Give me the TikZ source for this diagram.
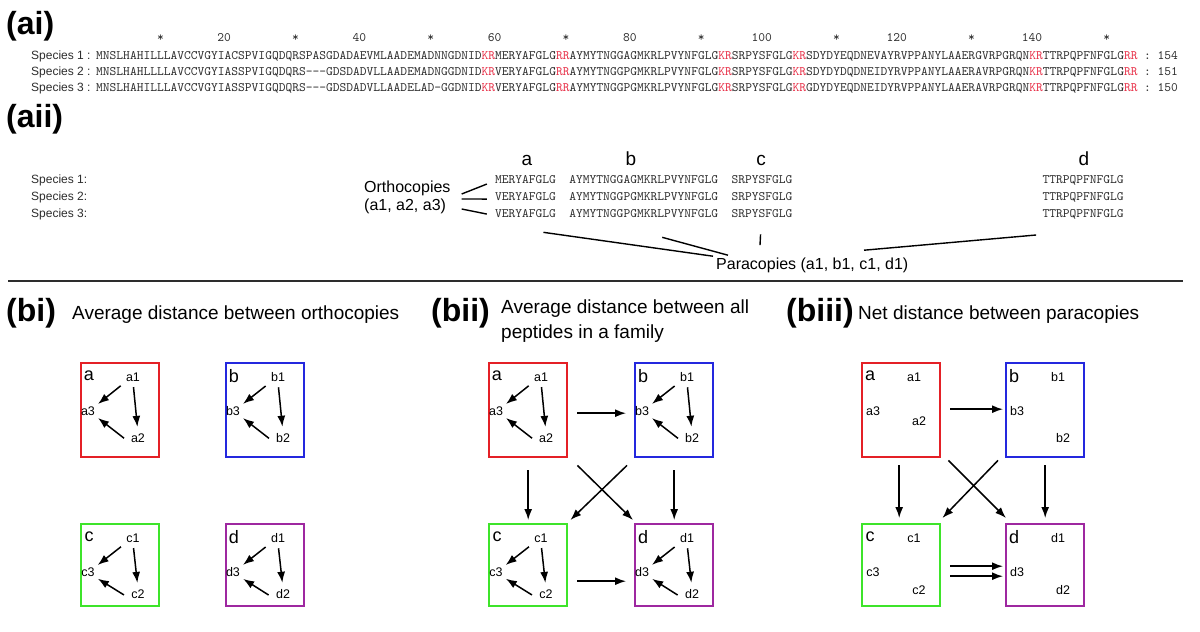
\documentclass[tikz,border=0pt]{standalone}
\usepackage{fontspec}
\setmainfont{Liberation Sans}
\usetikzlibrary{arrows.meta}
\font\seqfont="[lmmono10-regular.otf]" at 12.88pt

\definecolor{seqgray}{RGB}{45,45,45}
\definecolor{krred}{RGB}{232,48,72}
\definecolor{famred}{RGB}{228,32,38}
\definecolor{famblue}{RGB}{36,40,222}
\definecolor{famgreen}{RGB}{62,228,42}
\definecolor{fampurple}{RGB}{158,40,160}

\newcommand{\krmark}[1]{\textcolor{krred}{#1}}
\newcommand{\colx}[1]{96+(#1-1)*6.76}

\tikzset{
  seqtxt/.style={inner sep=0pt, anchor=base west, text=seqgray, font=\seqfont},
  spec/.style={inner sep=0pt, anchor=base west, text=seqgray, font=\fontsize{12}{14}\selectfont},
  head/.style={inner sep=0pt, anchor=west, font=\fontsize{32}{36}\selectfont\bfseries},
  title/.style={inner sep=0pt, anchor=west, font=\fontsize{19}{25}\selectfont},
  seglab/.style={inner sep=0pt, anchor=base, font=\fontsize{19}{21}\selectfont},
  note/.style={inner sep=0pt, font=\fontsize{16}{18}\selectfont},
  fam/.style={draw, line width=2.4pt, minimum width=78pt, inner sep=0pt, anchor=north west},
  famlab/.style={inner sep=0pt, font=\fontsize{18}{20}\selectfont},
  mem/.style={inner sep=0.5pt, font=\fontsize{12.5}{14}\selectfont},
  arr/.style={line width=1.5pt, -{Latex[length=11pt,width=8pt]}},
  tie/.style={line width=1.4pt},
}

% #1 名前, #2 文字, #3 色, #4 左, #5 上, #6 高さ, #7 m3のx, #8 m2のy
\newcommand{\famblock}[8]{%
  \node[fam, draw=#3, minimum height=#6pt] (#1) at (#4,#5) {};
  \node[famlab] (#1l) at ([shift={(9pt,-14pt)}]#1.north west) {#2};
  \node[mem] (#1m1) at ([shift={(53pt,-15pt)}]#1.north west) {#21};
  \node[mem] (#1m3) at ([shift={(#7pt,-49pt)}]#1.north west) {#23};
  \node[mem] (#1m2) at ([shift={(58pt,-#8pt)}]#1.north west) {#22};
}
% 箱の中の矢印
\newcommand{\famarrows}[1]{%
  \draw[arr, shorten <=6pt, shorten >=3pt] (#1m1.south west) -- (#1m3.north east);
  \draw[arr, shorten <=5pt, shorten >=6pt] (#1m1.south) -- (#1m2.north);
  \draw[arr, shorten <=8pt, shorten >=3pt] (#1m2.south west) -- (#1m3.south east);
}

\begin{document}
\begin{tikzpicture}[x=1pt,y=-1pt]
 \fill[white] (0,0) rectangle (1200,632); % 背景
 \useasboundingbox (0,0) rectangle (1200,632);

 % (ai) アラインメント
 \node[head] (hai) at (6,26) {(ai)};
 \foreach \k in {10,30,...,150}
   \node[seqtxt] (st\k) at ({\colx{\k}},41) {*}; % 目盛り
 \foreach \k in {20,40,...,140}
   \node[seqtxt, anchor=base east] (sn\k) at ({\colx{\k}+6.76},41) {\k}; % 番号

 \node[spec] (sp1) at (31,59) {Species 1 :};
 \node[spec] (sp2) at (31,75) {Species 2 :};
 \node[spec] (sp3) at (31,91) {Species 3 :};

 \node[seqtxt] (r1) at (96,59) {MNSLHAHILLLAVCCVGYIACSPVIGQDQRSPASGDADAEVMLAADEMADNNGDNID\krmark{KR}MERYAFGLG\krmark{RR}AYMYTNGGAGMKRLPVYNFGLG\krmark{KR}SRPYSFGLG\krmark{KR}SDYDYEQDNEVAYRVPPANYLAAERGVRPGRQN\krmark{KR}TTRPQPFNFGLG\krmark{RR}};
 \node[seqtxt] (r2) at (96,75) {MNSLHAHLLLLAVCCVGYIASSPVIGQDQRS---GDSDADVLLAADEMADNGGDNID\krmark{KR}VERYAFGLG\krmark{RR}AYMYTNGGPGMKRLPVYNFGLG\krmark{KR}SRPYSFGLG\krmark{KR}SDYDYDQDNEIDYRVPPANYLAAERAVRPGRQN\krmark{KR}TTRPQPFNFGLG\krmark{RR}};
 \node[seqtxt] (r3) at (96,91) {MNSLHAHILLLAVCCVGYIASSPVIGQDQRS---GDSDADVLLAADELAD-GGDNID\krmark{KR}VERYAFGLG\krmark{RR}AYMYTNGGPGMKRLPVYNFGLG\krmark{KR}SRPYSFGLG\krmark{KR}GDYDYEQDNEIDYRVPPANYLAAERAVRPGRQN\krmark{KR}TTRPQPFNFGLG\krmark{RR}};

 \node[seqtxt] (e1) at ({\colx{156}},59) {:~154}; % 長さ
 \node[seqtxt] (e2) at ({\colx{156}},75) {:~151};
 \node[seqtxt] (e3) at ({\colx{156}},91) {:~150};

 % (aii) ペプチド
 \node[head] (haii) at (6,119) {(aii)};
 \foreach \i/\y in {1/183,2/200,3/217}
   \node[spec] (sq\i) at (31,\y) {Species \i:};

 \foreach \i/\y/\sa/\sb in {1/183/MERYAFGLG/AYMYTNGGAGMKRLPVYNFGLG,
                            2/200/VERYAFGLG/AYMYTNGGPGMKRLPVYNFGLG,
                            3/217/VERYAFGLG/AYMYTNGGPGMKRLPVYNFGLG}{
   \node[seqtxt] (sa\i) at ({\colx{60}},\y) {\sa};
   \node[seqtxt] (sb\i) at ({\colx{71}},\y) {\sb};
   \node[seqtxt] (sc\i) at ({\colx{95}},\y) {SRPYSFGLG};
   \node[seqtxt] (sd\i) at ({\colx{141}},\y) {TTRPQPFNFGLG};
 }

 \node[seglab] (la) at (527,165) {a};
 \node[seglab] (lb) at (631,165) {b};
 \node[seglab] (lc) at (761,165) {c};
 \node[seglab] (ld) at (1084,165) {d};

 \node[note, anchor=west, align=left] (ortho) at (364,197) {Orthocopies\\(a1, a2, a3)};
 \coordinate (o1) at ([shift={(11pt,3pt)}]ortho.east);
 \coordinate (o2) at ([shift={(11pt,-2pt)}]ortho.east);
 \coordinate (o3) at ([shift={(11pt,-12pt)}]ortho.east);
 \draw[tie] (o1) -- ([shift={(-8pt,-5pt)}]sa1.west);
 \draw[tie] (o2) -- ([shift={(-8pt,-3pt)}]sa2.west);
 \draw[tie] (o3) -- ([shift={(-8pt,-1pt)}]sa3.west);

 \node[note, anchor=base west] (para) at (716,269) {Paracopies (a1, b1, c1, d1)};
 \coordinate (pa) at ([shift={(18pt,-15pt)}]sa3.south);
 \coordinate (pb) at ([shift={(18.5pt,-20pt)}]sb3.south);
 \coordinate (pc) at ([shift={(-1.5pt,-17pt)}]sc3.south);
 \coordinate (pd) at ([shift={(-47pt,-16pt)}]sd3.south);
 \draw[tie] (pa) -- ([shift={(-3pt,1pt)}]para.north west);
 \draw[tie] (pb) -- ([shift={(12pt,2pt)}]para.north west);
 \draw[tie] (pc) -- ([shift={(44pt,12pt)}]para.north west);
 \draw[tie] (pd) -- ([shift={(148pt,7pt)}]para.north west);

 \draw[line width=1.8pt, seqgray] (8,281) -- (1183,281); % 区切り線

 % (bi)
 \node[head] (hbi) at (6,313) {(bi)};
 \node[title] (tbi) at (72,315) {Average distance between orthocopies};
 \famblock{iA}{a}{famred}{80}{362}{94}{8}{76}
 \famblock{iB}{b}{famblue}{225}{362}{94}{8}{76}
 \famblock{iC}{c}{famgreen}{80}{523}{82}{8}{71}
 \famblock{iD}{d}{fampurple}{225}{523}{82}{8}{71}
 \foreach \f in {iA,iB,iC,iD}{\famarrows{\f}}

 % (bii)
 \node[head] (hbii) at (431,313) {(bii)};
 \node[title, anchor=north west, align=left] (tbii) at (501,300) {Average distance between all\\peptides in a family};
 \famblock{iiA}{a}{famred}{488}{362}{94}{8}{76}
 \famblock{iiB}{b}{famblue}{634}{362}{94}{8}{76}
 \famblock{iiC}{c}{famgreen}{488}{523}{82}{8}{71}
 \famblock{iiD}{d}{fampurple}{634}{523}{82}{8}{71}
 \foreach \f in {iiA,iiB,iiC,iiD}{\famarrows{\f}}
 \draw[arr] ([shift={(9pt,-3pt)}]iiA.east) -- ([shift={(-8pt,-3pt)}]iiB.west);
 \draw[arr] ([shift={(9pt,-16pt)}]iiC.east) -- ([shift={(-8pt,-16pt)}]iiD.west);
 \draw[arr] ([yshift=-12pt]iiA.south) -- ([yshift=3pt]iiC.north);
 \draw[arr] ([yshift=-12pt]iiB.south) -- ([yshift=3pt]iiD.north);
 \draw[arr] ([shift={(9pt,-7pt)}]iiA.south east) -- ([shift={(-1pt,3pt)}]iiD.north west);
 \draw[arr] ([shift={(-7pt,-7pt)}]iiB.south west) -- ([shift={(2pt,3pt)}]iiC.north east);

 % (biii)
 \node[head] (hbiii) at (786,313) {(biii)};
 \node[title] (tbiii) at (858,315) {Net distance between paracopies};
 \famblock{iiiA}{a}{famred}{861}{362}{94}{12}{59}
 \famblock{iiiB}{b}{famblue}{1005}{362}{94}{12}{76}
 \famblock{iiiC}{c}{famgreen}{861}{523}{82}{12}{67}
 \famblock{iiiD}{d}{fampurple}{1005}{523}{82}{12}{67}
 \draw[arr] ([shift={(9pt,1pt)}]iiiA.east) -- ([shift={(-2pt,1pt)}]iiiB.west);
 \draw[arr] ([shift={(9pt,-1pt)}]iiiC.east) -- ([shift={(-2pt,-1pt)}]iiiD.west);
 \draw[arr] ([shift={(9pt,-11pt)}]iiiC.east) -- ([shift={(-2pt,-11pt)}]iiiD.west);
 \draw[arr] ([shift={(-2pt,-7pt)}]iiiA.south) -- ([shift={(-2pt,5pt)}]iiiC.north);
 \draw[arr] ([shift={(0pt,-7pt)}]iiiB.south) -- ([shift={(0pt,5pt)}]iiiD.north);
 \draw[arr] ([shift={(7pt,-2pt)}]iiiA.south east) -- ([shift={(1pt,5pt)}]iiiD.north west);
 \draw[arr] ([shift={(-7pt,-2pt)}]iiiB.south west) -- ([shift={(1pt,5pt)}]iiiC.north east);
\end{tikzpicture}
\end{document}
